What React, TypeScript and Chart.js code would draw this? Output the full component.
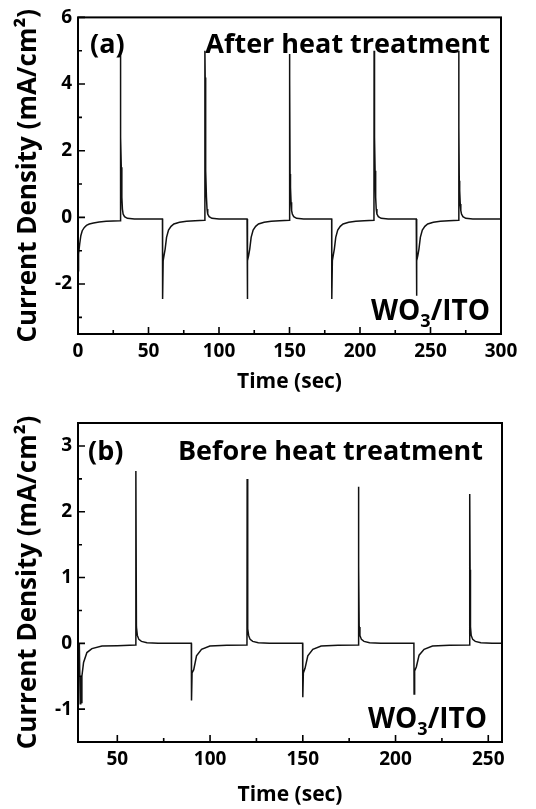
import React, { useEffect, useRef } from "react";
import { Chart, registerables } from "chart.js";
Chart.register(...registerables);

// ---------- Panel (a): after heat treatment ----------
const timeA = [
  0, 0.2, 0.6, 1.2, 2, 3, 4.5, 6, 8, 11, 15, 20, 25, 29.9,
  30, 30.2, 30.4, 30.7, 31.1, 31.5, 32, 33, 35, 40, 50, 59.9,
  60, 60.4, 61, 61.8, 62.8, 64.2, 66, 68, 72, 77, 83, 89.9,
  90, 90.2, 90.4, 90.7, 91.1, 91.5, 92, 93, 95, 100, 110, 119.9,
  120, 120.4, 121, 121.8, 122.8, 124.2, 126, 128, 132, 137, 143, 149.9,
  150, 150.2, 150.4, 150.7, 151.1, 151.5, 152, 153, 155, 160, 170, 179.9,
  180, 180.4, 181, 181.8, 182.8, 184.2, 186, 188, 192, 197, 203, 209.9,
  210, 210.2, 210.4, 210.7, 211.1, 211.5, 212, 213, 215, 220, 230, 239.9,
  240, 240.4, 241, 241.8, 242.8, 244.2, 246, 248, 252, 257, 263, 269.9,
  270, 270.2, 270.4, 270.7, 271.1, 271.5, 272, 273, 275, 280, 290, 300,
];
const currentA = [
  -1.6, -1.35, -1.1, -0.8, -0.55, -0.4, -0.3, -0.24, -0.2, -0.17, -0.14, -0.12, -0.11, -0.1,
  5.0, 2.8, 2.4, 1.5, 0.6, 0.25, 0.1, 0.02, -0.03, -0.05, -0.05, -0.05,
  -2.45, -1.3, -1.15, -0.95, -0.6, -0.38, -0.27, -0.2, -0.15, -0.12, -0.1, -0.09,
  5.0, 4.2, 2.4, 1.4, 0.6, 0.25, 0.1, 0.02, -0.03, -0.05, -0.05, -0.05,
  -2.45, -1.3, -1.15, -0.95, -0.6, -0.38, -0.27, -0.2, -0.15, -0.12, -0.1, -0.09,
  4.9, 4.2, 1.3, 0.9, 0.45, 0.2, 0.1, 0.02, -0.03, -0.05, -0.05, -0.05,
  -2.45, -1.3, -1.15, -0.95, -0.6, -0.38, -0.27, -0.2, -0.15, -0.12, -0.1, -0.09,
  5.0, 2.7, 2.4, 1.4, 0.6, 0.25, 0.1, 0.02, -0.03, -0.05, -0.05, -0.05,
  -2.35, -1.3, -1.15, -0.95, -0.6, -0.38, -0.27, -0.2, -0.15, -0.12, -0.1, -0.09,
  5.0, 2.7, 1.1, 0.8, 0.4, 0.2, 0.1, 0.02, -0.03, -0.05, -0.05, -0.05,
];
const xMajorA = [0, 50, 100, 150, 200, 250, 300];
const xMinorA = [25, 75, 125, 175, 225, 275];
const yMajorA = [-2, 0, 2, 4, 6];
const yMinorA = [-3, -1, 1, 3, 5];

// ---------- Panel (b): before heat treatment ----------
const timeB = [
  29.5, 30, 30.3, 30.6, 30.9, 31.8, 33.6, 36.3, 41.7, 50, 59.9,
  60, 60.3, 60.8, 61.6, 63, 66, 72, 89.9,
  90, 90.3, 91.2, 92.7, 95.4, 99.9, 109, 119.9,
  120, 120.2, 120.4, 120.8, 121.6, 123, 126, 132, 149.9,
  150, 150.3, 151.2, 152.7, 155.4, 159.9, 169, 179.9,
  180, 180.2, 180.4, 180.8, 181.6, 183, 186, 192, 209.9,
  210, 210.3, 211.2, 212.7, 215.4, 219.9, 229, 239.9,
  240, 240.2, 240.4, 240.8, 241.6, 243, 246, 252, 257.4,
];
const currentB = [
  0.0, -0.92, -0.5, -0.9, -0.5, -0.29, -0.14, -0.08, -0.04, -0.035, -0.025,
  2.62, 0.25, 0.12, 0.06, 0.03, 0.01, 0.0, 0.0,
  -0.87, -0.45, -0.4, -0.19, -0.09, -0.04, -0.03, -0.025,
  2.5, 2.15, 0.22, 0.12, 0.06, 0.03, 0.01, 0.0, 0.0,
  -0.82, -0.45, -0.38, -0.19, -0.09, -0.04, -0.03, -0.025,
  2.38, 1.17, 0.25, 0.12, 0.06, 0.03, 0.01, 0.0, 0.0,
  -0.77, -0.42, -0.36, -0.18, -0.09, -0.04, -0.03, -0.025,
  2.27, 1.12, 0.25, 0.12, 0.06, 0.03, 0.01, 0.0, 0.0,
];
const xMajorB = [50, 100, 150, 200, 250];
const xMinorB = [75, 125, 175, 225];
const yMajorB = [-1, 0, 1, 2, 3];
const yMinorB = [-0.5, 0.5, 1.5, 2.5];

const FONT = '"Open Sans", "DejaVu Sans", sans-serif';

type Panel = {
  tag: string;
  heading: string;
  time: number[];
  current: number[];
  xMin: number; xMax: number; yMin: number; yMax: number;
  xMajor: number[]; xMinor: number[]; yMajor: number[]; yMinor: number[];
  height: number;
  pad: { top: number; right: number; bottom: number; left: number };
  yWidth: number;
  xHeight: number;
  tagX: number; headRight: number; headBase: number;
  woRight: number; woBase: number;
};

const panelA: Panel = {
  tag: "(a)", heading: "After heat treatment",
  time: timeA, current: currentA,
  xMin: 0, xMax: 300, yMin: -3.5, yMax: 6,
  xMajor: xMajorA, xMinor: xMinorA, yMajor: yMajorA, yMinor: yMinorA,
  height: 400,
  pad: { top: 16, right: 35, bottom: 5, left: 0 },
  yWidth: 78, xHeight: 61,
  tagX: 90, headRight: 490, headBase: 53,
  woRight: 490, woBase: 320,
};

const panelB: Panel = {
  tag: "(b)", heading: "Before heat treatment",
  time: timeB, current: currentB,
  xMin: 28.8, xMax: 257.4, yMin: -1.5, yMax: 3.35,
  xMajor: xMajorB, xMinor: xMinorB, yMajor: yMajorB, yMinor: yMinorB,
  height: 409,
  pad: { top: 23, right: 34, bottom: 1, left: 0 },
  yWidth: 78, xHeight: 66,
  tagX: 88, headRight: 483, headBase: 60,
  woRight: 487, woBase: 328,
};

function buildChart(canvas: HTMLCanvasElement, p: Panel) {
  const points = p.time.map((t, i) => ({ x: t, y: p.current[i] }));
  const frame = {
    id: "frame",
    afterDatasetsDraw(chart: any) {
      const { ctx, chartArea } = chart;
      const { left, right, top, bottom } = chartArea;
      const xs = chart.scales.x;
      const ys = chart.scales.y;
      ctx.save();
      ctx.strokeStyle = "#000";
      ctx.lineWidth = 2;
      ctx.strokeRect(left, top, right - left, bottom - top);
      ctx.lineWidth = 1.6;
      ctx.beginPath();
      for (const v of p.xMajor) {
        const px = xs.getPixelForValue(v);
        ctx.moveTo(px, bottom); ctx.lineTo(px, bottom - 7);
      }
      for (const v of p.xMinor) {
        const px = xs.getPixelForValue(v);
        ctx.moveTo(px, bottom); ctx.lineTo(px, bottom - 4);
      }
      for (const v of p.yMajor) {
        const py = ys.getPixelForValue(v);
        ctx.moveTo(left, py); ctx.lineTo(left + 7, py);
      }
      for (const v of p.yMinor) {
        const py = ys.getPixelForValue(v);
        ctx.moveTo(left, py); ctx.lineTo(left + 4, py);
      }
      ctx.stroke();

      ctx.fillStyle = "#000";
      ctx.textBaseline = "alphabetic";
      ctx.font = `bold 27px ${FONT}`;
      ctx.textAlign = "left";
      ctx.fillText(p.tag, p.tagX, p.headBase);
      ctx.textAlign = "right";
      ctx.fillText(p.heading, p.headRight, p.headBase);

      // WO3/ITO with subscript
      const big = `bold 28px ${FONT}`;
      const small = `bold 18px ${FONT}`;
      ctx.textAlign = "left";
      ctx.font = big;
      const wWO = ctx.measureText("WO").width;
      const wITO = ctx.measureText("/ITO").width;
      ctx.font = small;
      const w3 = ctx.measureText("3").width;
      const x0 = p.woRight - (wWO + w3 + wITO);
      ctx.font = big;
      ctx.fillText("WO", x0, p.woBase);
      ctx.font = small;
      ctx.fillText("3", x0 + wWO, p.woBase + 7);
      ctx.font = big;
      ctx.fillText("/ITO", x0 + wWO + w3, p.woBase);
      ctx.restore();
    },
  };

  return new Chart(canvas, {
    type: "line",
    data: {
      datasets: [
        {
          data: points,
          borderColor: "#111",
          borderWidth: 1.5,
          pointRadius: 0,
          tension: 0,
          fill: false,
        },
      ],
    },
    options: {
      responsive: false,
      animation: false,
      layout: { padding: p.pad },
      plugins: { legend: { display: false }, tooltip: { enabled: false } },
      scales: {
        x: {
          type: "linear",
          min: p.xMin,
          max: p.xMax,
          afterBuildTicks: (s: any) => {
            s.ticks = p.xMajor.map((v) => ({ value: v }));
          },
          afterFit: (s: any) => {
            s.height = p.xHeight;
          },
          grid: { display: false, drawTicks: false },
          border: { display: false },
          ticks: {
            padding: 6,
            color: "#000",
            autoSkip: false,
            maxRotation: 0,
            font: { family: FONT, weight: "bold", size: 19 },
          },
          title: {
            display: true,
            text: "Time (sec)",
            color: "#000",
            padding: 0,
            font: { family: FONT, weight: "bold", size: 21 },
          },
        },
        y: {
          type: "linear",
          min: p.yMin,
          max: p.yMax,
          afterBuildTicks: (s: any) => {
            s.ticks = p.yMajor.map((v) => ({ value: v }));
          },
          afterFit: (s: any) => {
            s.width = p.yWidth;
          },
          grid: { display: false, drawTicks: false },
          border: { display: false },
          ticks: {
            padding: 6,
            color: "#000",
            autoSkip: false,
            font: { family: FONT, weight: "bold", size: 19 },
          },
          title: {
            display: true,
            text: "Current Density (mA/cm²)",
            color: "#000",
            padding: { top: 13, bottom: 0 },
            font: { family: FONT, weight: "bold", size: 26 },
          },
        },
      },
    },
    plugins: [frame],
  } as any);
}

function PanelChart({ panel, top }: { panel: Panel; top: number }) {
  const ref = useRef<HTMLCanvasElement | null>(null);
  useEffect(() => {
    if (!ref.current) return;
    const chart = buildChart(ref.current, panel);
    return () => chart.destroy();
  }, [panel]);
  return (
    <canvas
      ref={ref}
      width={536}
      height={panel.height}
      style={{ position: "absolute", left: 0, top, width: 536, height: panel.height, display: "block" }}
    />
  );
}

export default function App() {
  return (
    <div style={{ position: "absolute", left: 0, top: 0, width: 536, height: 809, background: "#fff" }}>
      <PanelChart panel={panelA} top={0} />
      <PanelChart panel={panelB} top={400} />
    </div>
  );
}
